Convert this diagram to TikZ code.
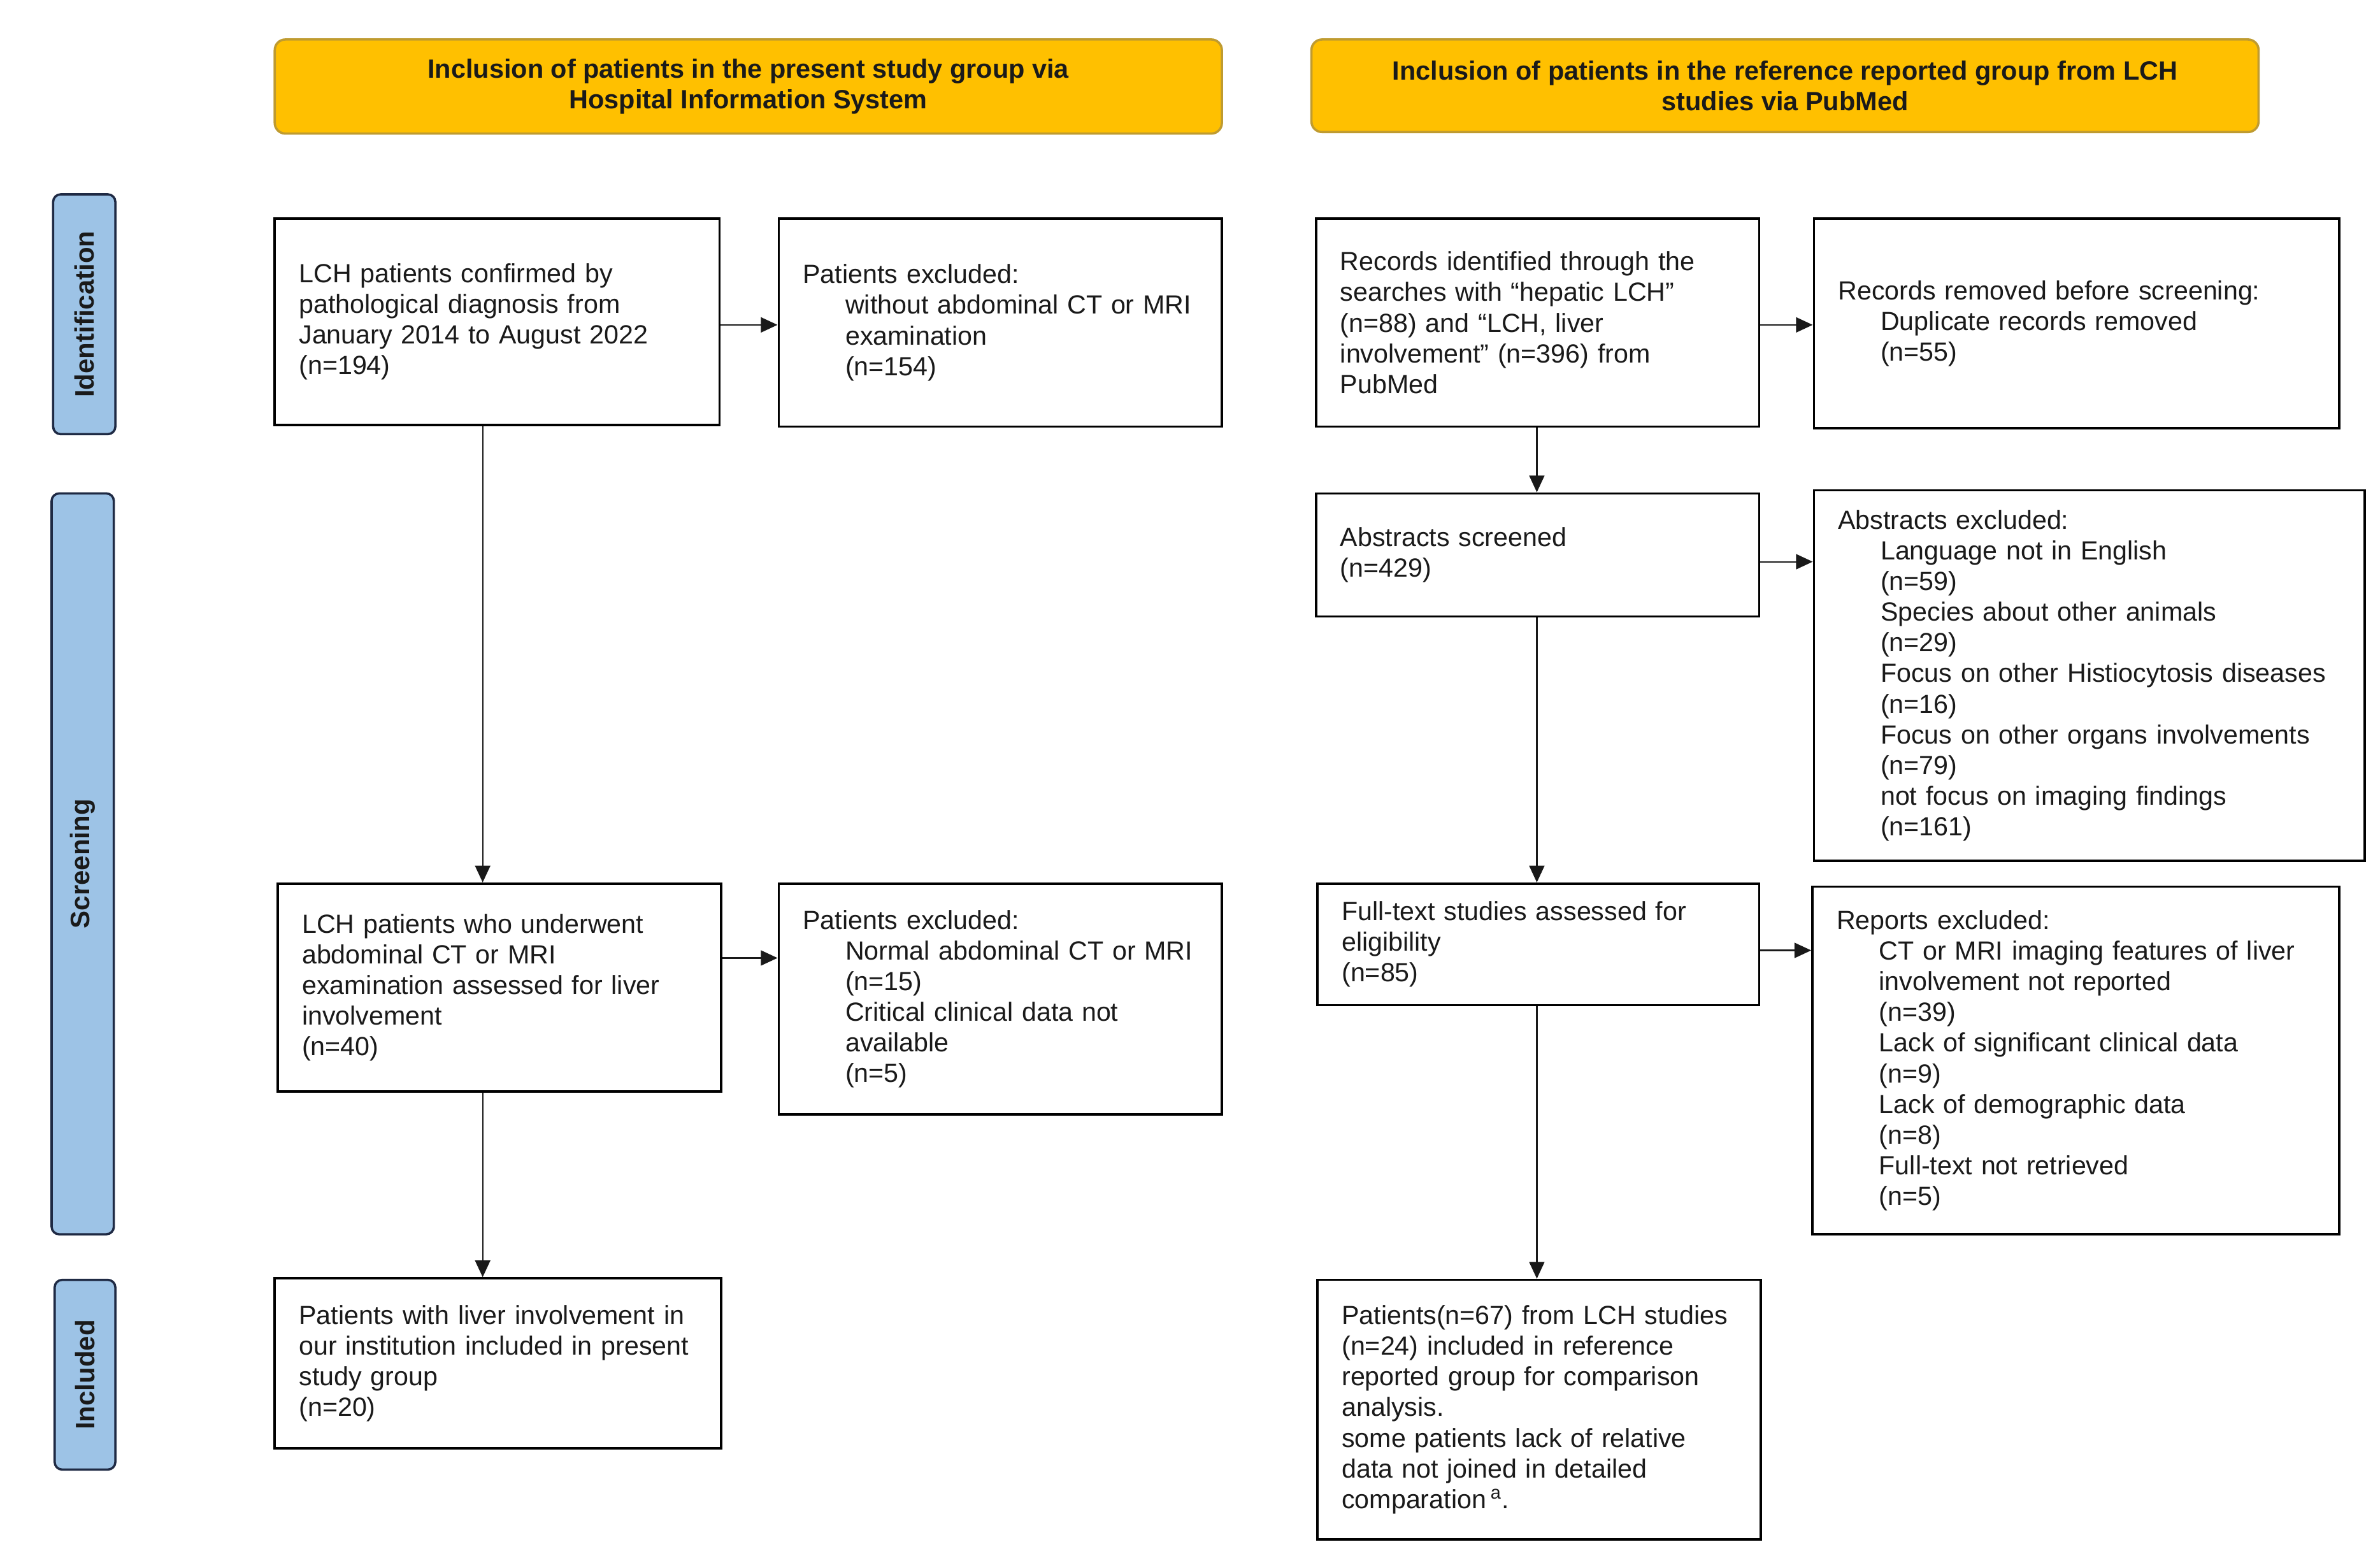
\documentclass[tikz,border=0pt]{standalone}
\usepackage{fontspec}
\setmainfont{Liberation Sans}
\usetikzlibrary{arrows.meta}
\definecolor{hdrfill}{HTML}{FFC000}
\definecolor{hdrdraw}{HTML}{BF9B30}
\definecolor{sidefill}{HTML}{9DC3E6}
\definecolor{sidedraw}{HTML}{1F2A44}
\definecolor{txt}{HTML}{1A1A1A}
\newcommand\myind{\hspace*{28pt}}
\begin{document}
\begin{tikzpicture}[x=1pt,y=-1pt,
  font=\fontsize{17.3}{20.2}\selectfont,
  box/.style={draw=black, line width=1.5pt, fill=white, text=txt,
    inner xsep=16pt, inner ysep=0pt, align=left},
  hdr/.style={draw=hdrdraw, fill=hdrfill, line width=1.5pt, rounded corners=7pt,
    text=txt, font=\fontsize{17.4}{20.2}\selectfont\bfseries, align=center, inner sep=0pt},
  side/.style={draw=sidedraw, fill=sidefill, line width=1.5pt, rounded corners=5pt,
    text=txt, font=\fontsize{17.6}{20.2}\selectfont\bfseries, inner sep=0pt, rotate=90},
  arr/.style={-{Triangle[length=11pt,width=10pt]}, line width=0.9pt, draw=black!90}]
\useasboundingbox (0,0) rectangle (1568,1029.5);

% headers
\node[hdr, minimum width=624pt, minimum height=62pt] (H1) at (493,57)
  {Inclusion of patients in the present study group via\\Hospital Information System};
\node[hdr, minimum width=624pt, minimum height=61pt] (H2) at (1176,56.5)
  {Inclusion of patients in the reference reported group from LCH\\studies via PubMed};

% side labels
\node[side, minimum width=158pt, minimum height=41pt] (S1) at (55.5,207) {Identification};
\node[side, minimum width=488pt, minimum height=41pt] (S2) at (54.5,569) {Screening};
\node[side, minimum width=125pt, minimum height=40pt] (S3) at (56,905.5) {Included};

% left column
\node[box, minimum width=293pt, minimum height=136pt, text width=261pt] (L1) at (327.5,212)
  {LCH patients confirmed by\\pathological diagnosis from\\January 2014 to August 2022\\(n=194)};
\node[box, minimum width=292pt, minimum height=137pt, text width=260pt] (L1x) at (659,212.5)
  {Patients excluded:\\\myind\mbox{without abdominal CT or MRI}\\\myind examination\\\myind (n=154)};
\node[box, minimum width=292pt, minimum height=137pt, text width=260pt] (L2) at (329,650.5)
  {LCH patients who underwent\\abdominal CT or MRI\\examination assessed for liver\\involvement\\(n=40)};
\node[box, minimum width=292pt, minimum height=152pt, text width=260pt] (L2x) at (659,658)
  {Patients excluded:\\\myind\mbox{Normal abdominal CT or MRI}\\\myind (n=15)\\\myind Critical clinical data not\\\myind available\\\myind (n=5)};
\node[box, minimum width=294pt, minimum height=112pt, text width=262pt] (L3) at (328,898)
  {Patients with liver involvement in\\our institution included in present\\study group\\(n=20)};

% right column
\node[box, minimum width=292pt, minimum height=137pt, text width=260pt] (R1) at (1013,212.5)
  {Records identified through the\\searches with “hepatic LCH”\\(n=88) and “LCH, liver\\involvement” (n=396) from\\PubMed};
\node[box, minimum width=346pt, minimum height=138pt, text width=314pt] (R1x) at (1368,213)
  {Records removed before screening:\\\myind Duplicate records removed\\\myind (n=55)};
\node[box, minimum width=292pt, minimum height=81pt, text width=260pt] (R2) at (1013,365.5)
  {Abstracts screened\\(n=429)};
\node[box, minimum width=363pt, minimum height=244pt, text width=331pt] (R2x) at (1376.5,445)
  {Abstracts excluded:\\\myind Language not in English\\\myind (n=59)\\\myind Species about other animals\\\myind (n=29)\\\myind\mbox{Focus on other Histiocytosis diseases}\\\myind (n=16)\\\myind Focus on other organs involvements\\\myind (n=79)\\\myind not focus on imaging findings\\\myind (n=161)};
\node[box, minimum width=291pt, minimum height=80pt, text width=259pt] (R3) at (1013.5,622)
  {Full-text studies assessed for\\eligibility\\(n=85)};
\node[box, minimum width=347pt, minimum height=229pt, text width=315pt] (R3x) at (1367.5,698.5)
  {Reports excluded:\\\myind\mbox{CT or MRI imaging features of liver}\\\myind involvement not reported\\\myind (n=39)\\\myind Lack of significant clinical data\\\myind (n=9)\\\myind Lack of demographic data\\\myind (n=8)\\\myind Full-text not retrieved\\\myind (n=5)};
\node[box, minimum width=292pt, minimum height=171pt, text width=260pt] (R4) at (1014,928.5)
  {\mbox{Patients(n=67) from LCH studies}\\(n=24) included in reference\\reported group for comparison\\analysis.\\some patients lack of relative\\data not joined in detailed\\comparation\,\textsuperscript{a}.};

% connectors
\coordinate (xL) at (318,0);
\coordinate (xR) at (1012.5,0);
\draw[arr] (L1.south -| xL) -- (L2.north -| xL);
\draw[arr] (L2.south -| xL) -- (L3.north -| xL);
\draw[arr] ([yshift=-2pt]L1.east) -- ([yshift=-2pt]L1.east -| L1x.west);
\draw[arr] ([yshift=19.5pt]L2.east) -- ([yshift=19.5pt]L2.east -| L2x.west);
\draw[arr] (R1.south -| xR) -- (R2.north -| xR);
\draw[arr] (R2.south -| xR) -- (R3.north -| xR);
\draw[arr] (R3.south -| xR) -- (R4.north -| xR);
\draw[arr] ([yshift=-1.5pt]R1.east) -- ([yshift=-1.5pt]R1.east -| R1x.west);
\draw[arr] ([yshift=-4.5pt]R2.east) -- ([yshift=-4.5pt]R2.east -| R2x.west);
\draw[arr] ([yshift=-4pt]R3.east) -- ([yshift=-4pt]R3.east -| R3x.west);
\end{tikzpicture}
\end{document}
